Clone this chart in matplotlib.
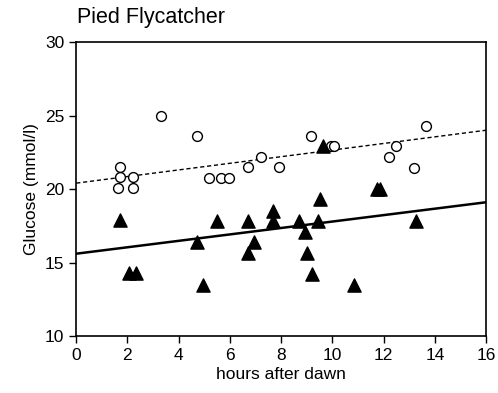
import matplotlib
matplotlib.use('Agg')
import matplotlib.pyplot as plt
import numpy as np

plt.rcParams['font.family'] = ['Liberation Sans', 'DejaVu Sans']

# open circles (upper group)
circ_x = [3.3, 4.7, 1.7, 1.7, 1.65, 2.2, 2.2, 5.2, 5.65, 5.95, 6.7, 7.2, 7.9,
          9.15, 9.95, 10.05, 12.5, 12.2, 13.65, 13.2]
circ_y = [25.0, 23.6, 21.5, 20.8, 20.1, 20.8, 20.1, 20.75, 20.75, 20.75, 21.5, 22.2, 21.5,
          23.6, 22.9, 22.9, 22.9, 22.2, 24.3, 21.45]

# filled triangles (lower group)
tri_x = [1.7, 2.05, 2.35, 4.7, 4.95, 5.5, 6.7, 6.7, 6.95, 7.7, 7.7,
         9.5, 8.7, 8.95, 9.45, 9.0, 9.2, 10.85, 11.75, 11.85, 13.25, 9.65]
tri_y = [17.9, 14.3, 14.3, 16.4, 13.5, 17.85, 17.85, 15.65, 16.4, 18.5, 17.8,
         19.3, 17.8, 17.1, 17.8, 15.65, 14.2, 13.5, 20.0, 20.0, 17.8, 22.9]

# regression lines (end points at x=0 and x=16)
line_x = [0, 16]
solid_y = [15.6, 19.1]
dashed_y = [20.4, 24.0]

fig = plt.figure(figsize=(4.98, 3.93), dpi=100)
ax = fig.add_axes([0.153, 0.145, 0.823, 0.748])

ax.plot(line_x, dashed_y, color='black', lw=1.0, ls=(0, (3, 2)))
ax.plot(line_x, solid_y, color='black', lw=1.8)
ax.scatter(circ_x, circ_y, s=50, facecolors='white', edgecolors='black', linewidths=1.0, zorder=3)
ax.scatter(tri_x, tri_y, s=90, marker='^', color='black', zorder=4)

ax.set_xlim(0, 16)
ax.set_ylim(10, 30)
ax.set_xticks(range(0, 17, 2))
ax.set_yticks(range(10, 31, 5))
ax.tick_params(labelsize=12.5, length=5, width=1)
ax.set_xlabel('hours after dawn', fontsize=12.5, labelpad=3)
ax.set_ylabel('Glucose (mmol/l)', fontsize=12.5, labelpad=4)
for sp in ax.spines.values():
    sp.set_linewidth(1.2)

fig.text(0.155, 0.955, 'Pied Flycatcher', fontsize=15.5, ha='left', va='center')

fig.savefig('out.png', dpi=100)
